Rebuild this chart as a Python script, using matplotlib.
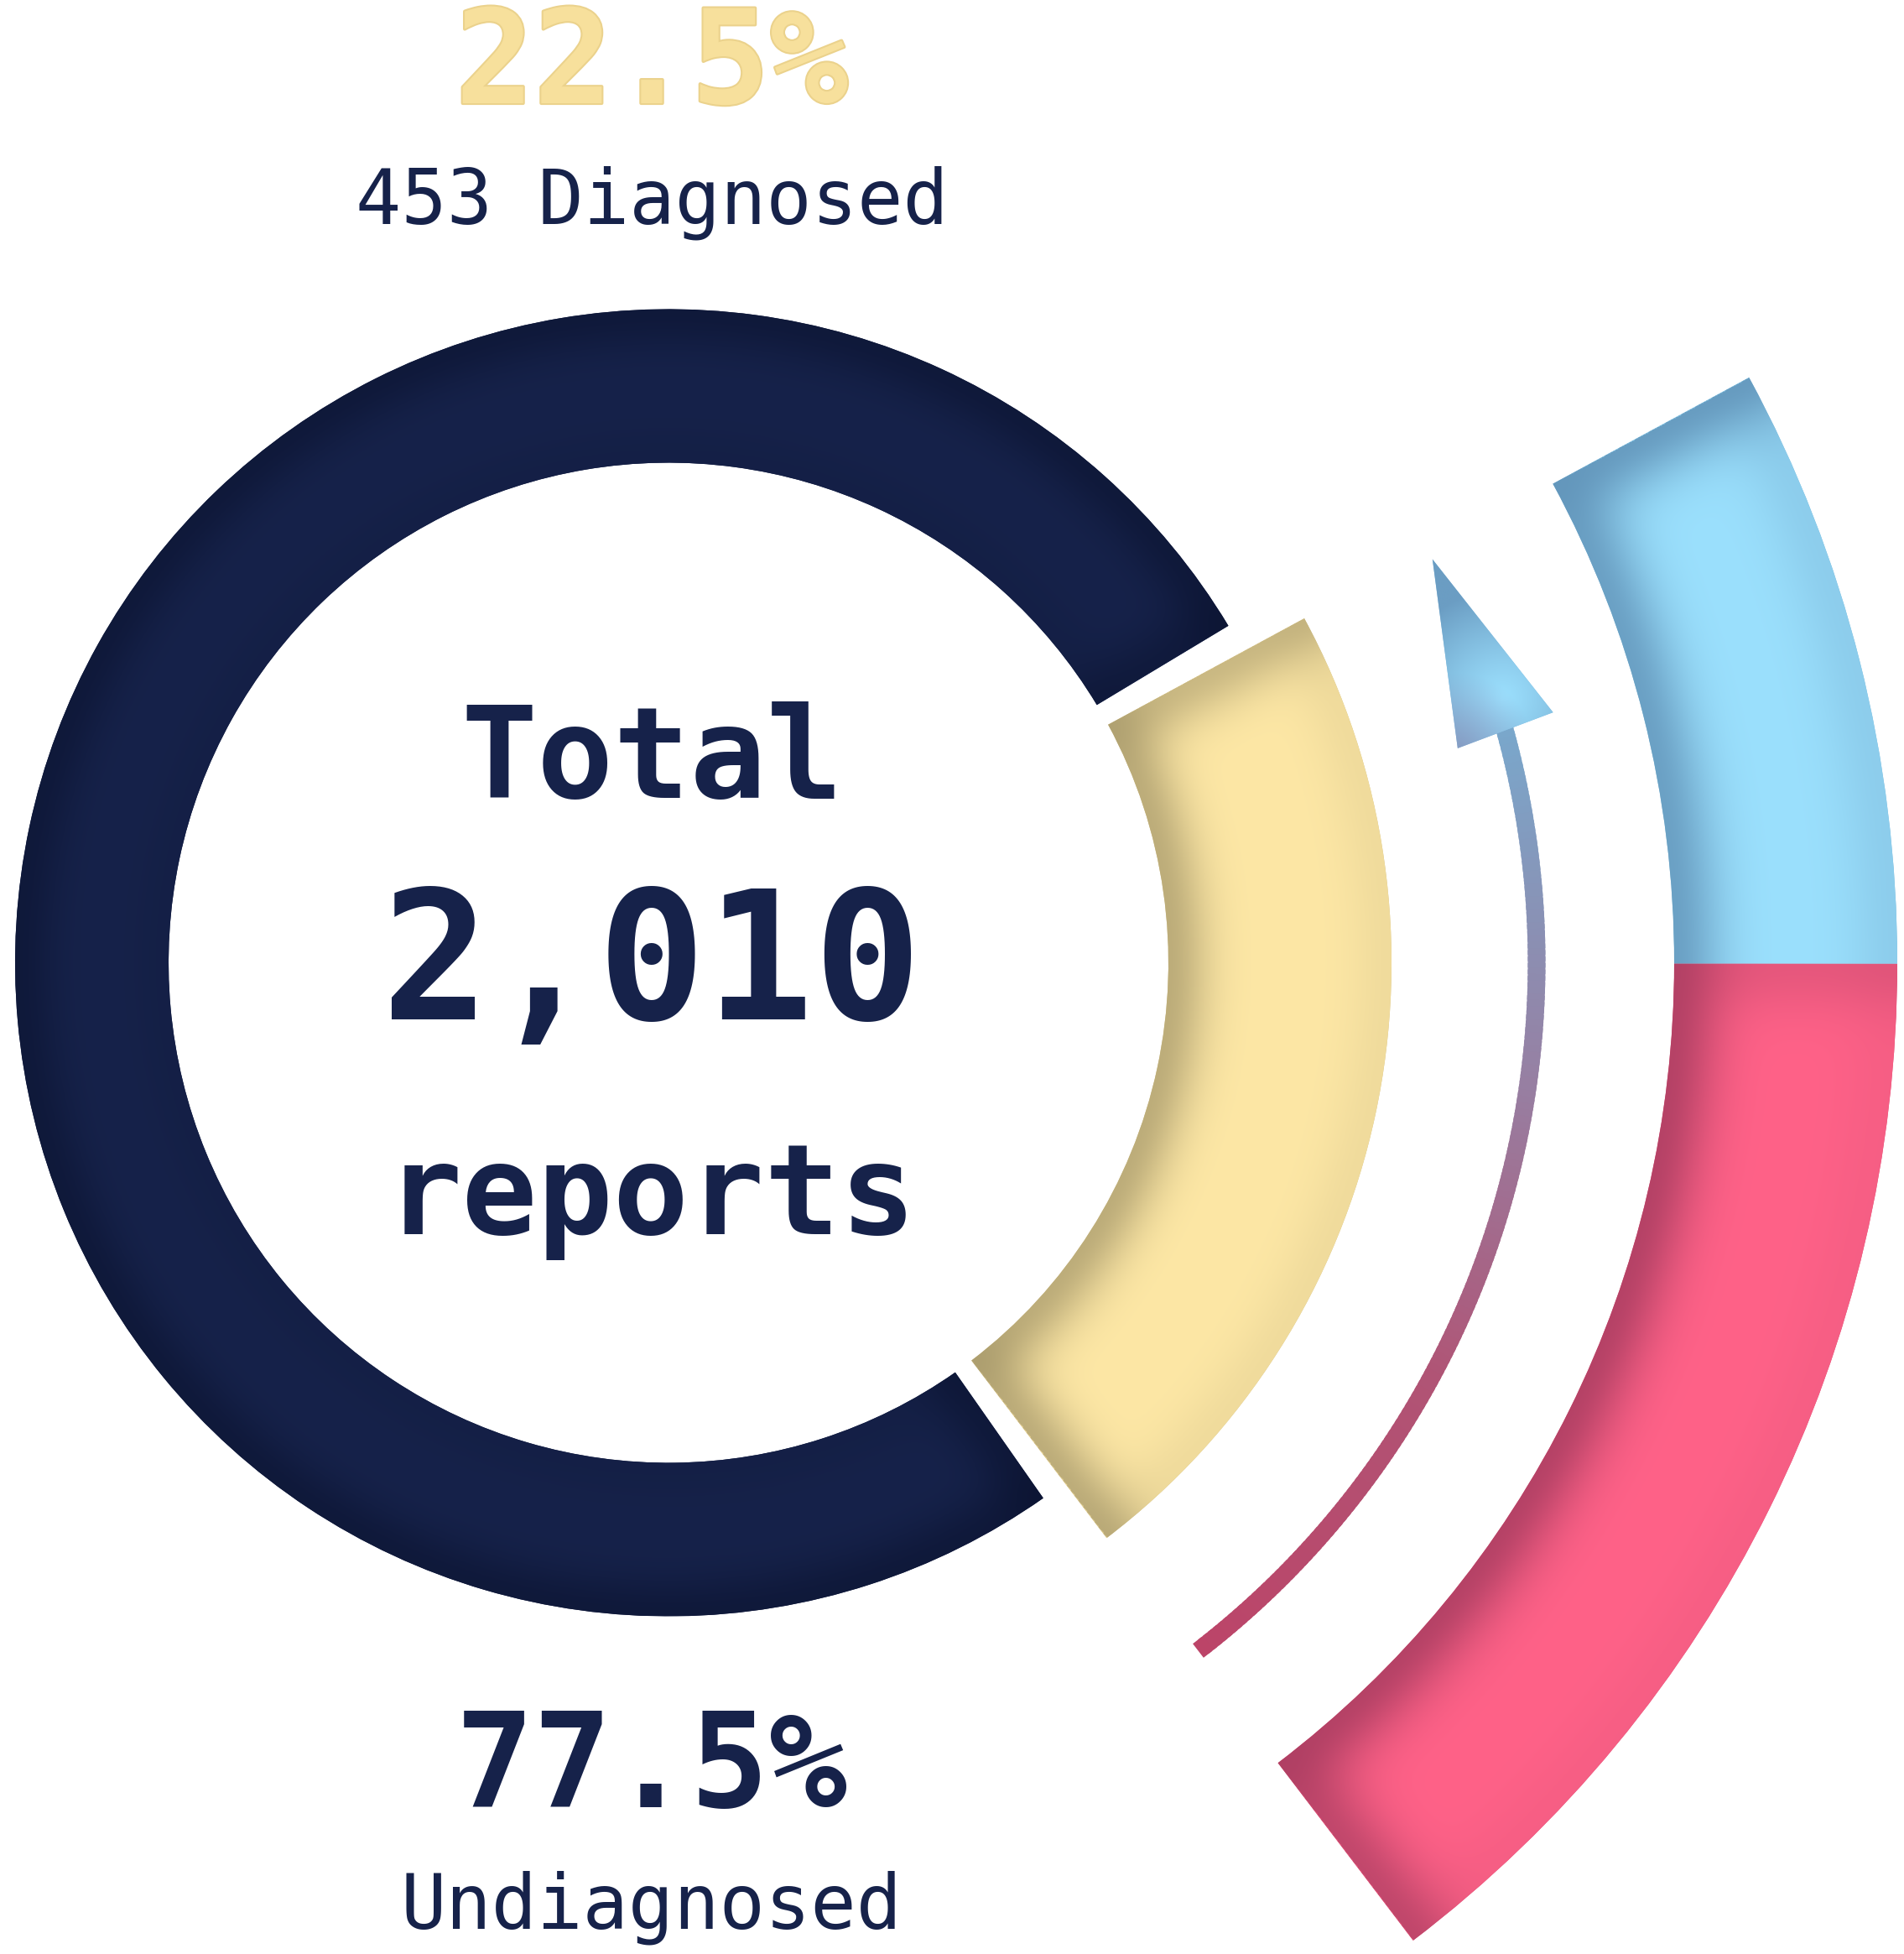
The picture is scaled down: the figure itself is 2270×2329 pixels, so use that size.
import numpy as np
import matplotlib
matplotlib.use('Agg')
import matplotlib.pyplot as plt
from matplotlib.patches import Wedge, Polygon
from matplotlib.colors import to_rgb
import matplotlib.patheffects as pe

# ---------------- data ----------------
categories = ['Diagnosed', 'Undiagnosed']
counts = [453, 1557]
total = sum(counts)
# breakdown of the diagnosed share shown in the outer ring (lower, upper)
outer_parts = [294, 159]
pct_labels = [f"{100*c/total:.1f}%" for c in counts]

# ---------------- styles ----------------
W, H = 2270, 2329
NAVY = '#16224A'
YELLOW = '#FDE7A5'
GOLD_TXT = '#F7E09C'
BLUE = '#9BE0FD'
PINK = '#FF6288'

fig = plt.figure(figsize=(W / 100, H / 100), dpi=100)
ax = fig.add_axes([0, 0, 1, 1])
ax.set_xlim(0, W)
ax.set_ylim(0, H)
ax.axis('off')

cx, cy = 797, H - 1147.5
c = (cx, cy)

R_IN = 596
R_NAVY = 779
R_YEL = 862
R2_IN, R2_OUT = 1199, 1465
R_ARROW, ARROW_W = 1035, 21

start = -52.7
span_diag = 360 * counts[0] / total
yel_t1, yel_t2 = start, start + span_diag
gap_top, gap_bot = 2.6, 2.3
navy_t1, navy_t2 = yel_t2 + gap_top, yel_t1 - gap_bot + 360


def shaded_wedge(rin, rout, t1, t2, base, dark, depth,
                 s_in=0.0, s_out=0.0, s_t1=0.0, s_t2=0.0, res=1.5, z=2):
    base = np.array(to_rgb(base))
    dark = np.array(to_rgb(dark))
    under = Wedge(c, rout, t1, t2, width=rout - rin, facecolor=base * 0.5 + dark * 0.5,
                  edgecolor='none', lw=0, zorder=z - 0.1)
    ax.add_patch(under)
    clip = Wedge(c, rout, t1, t2, width=rout - rin, facecolor='none',
                 edgecolor='none', lw=0)
    ax.add_patch(clip)
    x0, x1 = max(cx - rout, 0), min(cx + rout, W)
    y0, y1 = max(cy - rout, 0), min(cy + rout, H)
    nx, ny = int((x1 - x0) / res), int((y1 - y0) / res)
    gx, gy = np.meshgrid(np.linspace(x0, x1, nx), np.linspace(y0, y1, ny))
    dx, dy = gx - cx, gy - cy
    r = np.hypot(dx, dy)
    th = np.degrees(np.arctan2(dy, dx))
    d1 = r * np.radians((th - t1) % 360)
    d2 = r * np.radians((t2 - th) % 360)

    def prof(d):
        d = np.clip(d, 0, None)
        return np.exp(-3.0 * (d / depth) ** 2)

    keep = ((1 - s_in * prof(r - rin)) * (1 - s_out * prof(rout - r)) *
            (1 - s_t1 * prof(d1)) * (1 - s_t2 * prof(d2)))
    dk = (1 - keep)[..., None]
    img = base[None, None, :] * (1 - dk) + dark[None, None, :] * dk
    im = ax.imshow(img, extent=[x0, x1, y0, y1], origin='lower', zorder=z,
                   interpolation='bilinear', aspect='auto')
    im.set_clip_path(clip)


# navy (undiagnosed)
shaded_wedge(R_IN, R_NAVY, navy_t1, navy_t2, NAVY, '#0B1330', 80,
             s_in=0.15, s_out=0.6, s_t1=0.5, s_t2=0.6)
# yellow (diagnosed)
shaded_wedge(R_IN, R_YEL, yel_t1, yel_t2, YELLOW, '#A89A6C', 85,
             s_in=0.75, s_out=0.15, s_t1=0.75, s_t2=0.6)

# outer ring breakdown
split = yel_t1 + span_diag * outer_parts[0] / sum(outer_parts)
shaded_wedge(R2_IN, R2_OUT, yel_t1, split, PINK, '#AE3F63', 100,
             s_in=0.9, s_out=0.1, s_t1=0.75, s_t2=0.3)
shaded_wedge(R2_IN, R2_OUT, split, yel_t2, BLUE, '#6396BB', 100,
             s_in=0.85, s_out=0.25, s_t1=0.0, s_t2=0.9)

# ---------------- arrow ----------------
arrow_t1 = yel_t1 + 0.3
head_base = 15.4
arrow_tip = yel_t2 - 0.6
stops = [(0.0, '#BC4468'), (0.35, '#B05475'), (0.65, '#977FA2'), (1.0, '#79A8CC')]
sp = np.array([s[0] for s in stops])
sc = np.array([to_rgb(s[1]) for s in stops])
nseg = 160
edges = np.linspace(arrow_t1, head_base + 0.5, nseg + 1)
for i in range(nseg):
    f = (i + 0.5) / nseg
    col = [np.interp(f, sp, sc[:, j]) for j in range(3)]
    ax.add_patch(Wedge(c, R_ARROW + ARROW_W / 2, edges[i], edges[i + 1] + 0.3,
                       width=ARROW_W, facecolor=col, edgecolor='none', lw=0))


def pol(r, a):
    a = np.radians(a)
    return cx + r * np.cos(a), cy + r * np.sin(a)


tip = pol(R_ARROW - 5, arrow_tip)
b1 = pol(R_ARROW - 60, head_base - 0.2)
b2 = pol(R_ARROW + 61, head_base + 0.4)
tri = Polygon([tip, b1, b2], closed=True, facecolor='#86BDE0', edgecolor='none',
              zorder=2.9)
ax.add_patch(tri)
xs = [tip[0], b1[0], b2[0]]
ys = [tip[1], b1[1], b2[1]]
x0, x1, y0, y1 = min(xs) - 2, max(xs) + 2, min(ys) - 2, max(ys) + 2
gx, gy = np.meshgrid(np.linspace(x0, x1, 200), np.linspace(y0, y1, 300))
lx, ly = pol(R_ARROW + 8, head_base + 2.2)
dist = np.hypot(gx - lx, gy - ly)
t = np.clip(dist / 130, 0, 1) ** 1.2
light = np.array(to_rgb('#9BDFFD'))
dark = np.array(to_rgb('#6B9DC3'))
img = light[None, None, :] * (1 - t[..., None]) + dark[None, None, :] * t[..., None]
dpur = np.hypot(gx - b1[0], gy - b1[1])
pt = np.clip(1 - dpur / 90, 0, 1)[..., None] * 0.6
img = img * (1 - pt) + np.array(to_rgb('#8A88B2'))[None, None, :] * pt
im = ax.imshow(img, extent=[x0, x1, y0, y1], origin='lower', zorder=3,
               interpolation='bilinear', aspect='auto')
im.set_clip_path(tri)
ax.set_xlim(0, W)
ax.set_ylim(0, H)

# ---------------- text ----------------
tx = 777
mono = 'DejaVu Sans Mono'
ax.text(tx, H - 123, pct_labels[0], ha='center', va='baseline', fontsize=112,
        fontweight='bold', family=mono, color=GOLD_TXT,
        path_effects=[pe.withStroke(linewidth=3, foreground='#EBD28C')])
ax.text(tx, H - 267, f"{counts[0]} {categories[0]}", ha='center', va='baseline',
        fontsize=65, family=mono, color=NAVY)
ax.text(tx, H - 951, 'Total', ha='center', va='baseline', fontsize=109,
        fontweight='bold', family=mono, color=NAVY)
ax.text(tx, H - 1215, f"{total:,}", ha='center', va='baseline', fontsize=154,
        fontweight='bold', family=mono, color=NAVY)
ax.text(tx, H - 1471, 'reports', ha='center', va='baseline', fontsize=108,
        fontweight='bold', family=mono, color=NAVY)
ax.text(tx, H - 2154, pct_labels[1], ha='center', va='baseline', fontsize=112,
        fontweight='bold', family=mono, color=NAVY)
ax.text(tx, H - 2298, categories[1], ha='center', va='baseline', fontsize=65,
        family=mono, color=NAVY)

fig.savefig('out.png', dpi=100, facecolor='white')
